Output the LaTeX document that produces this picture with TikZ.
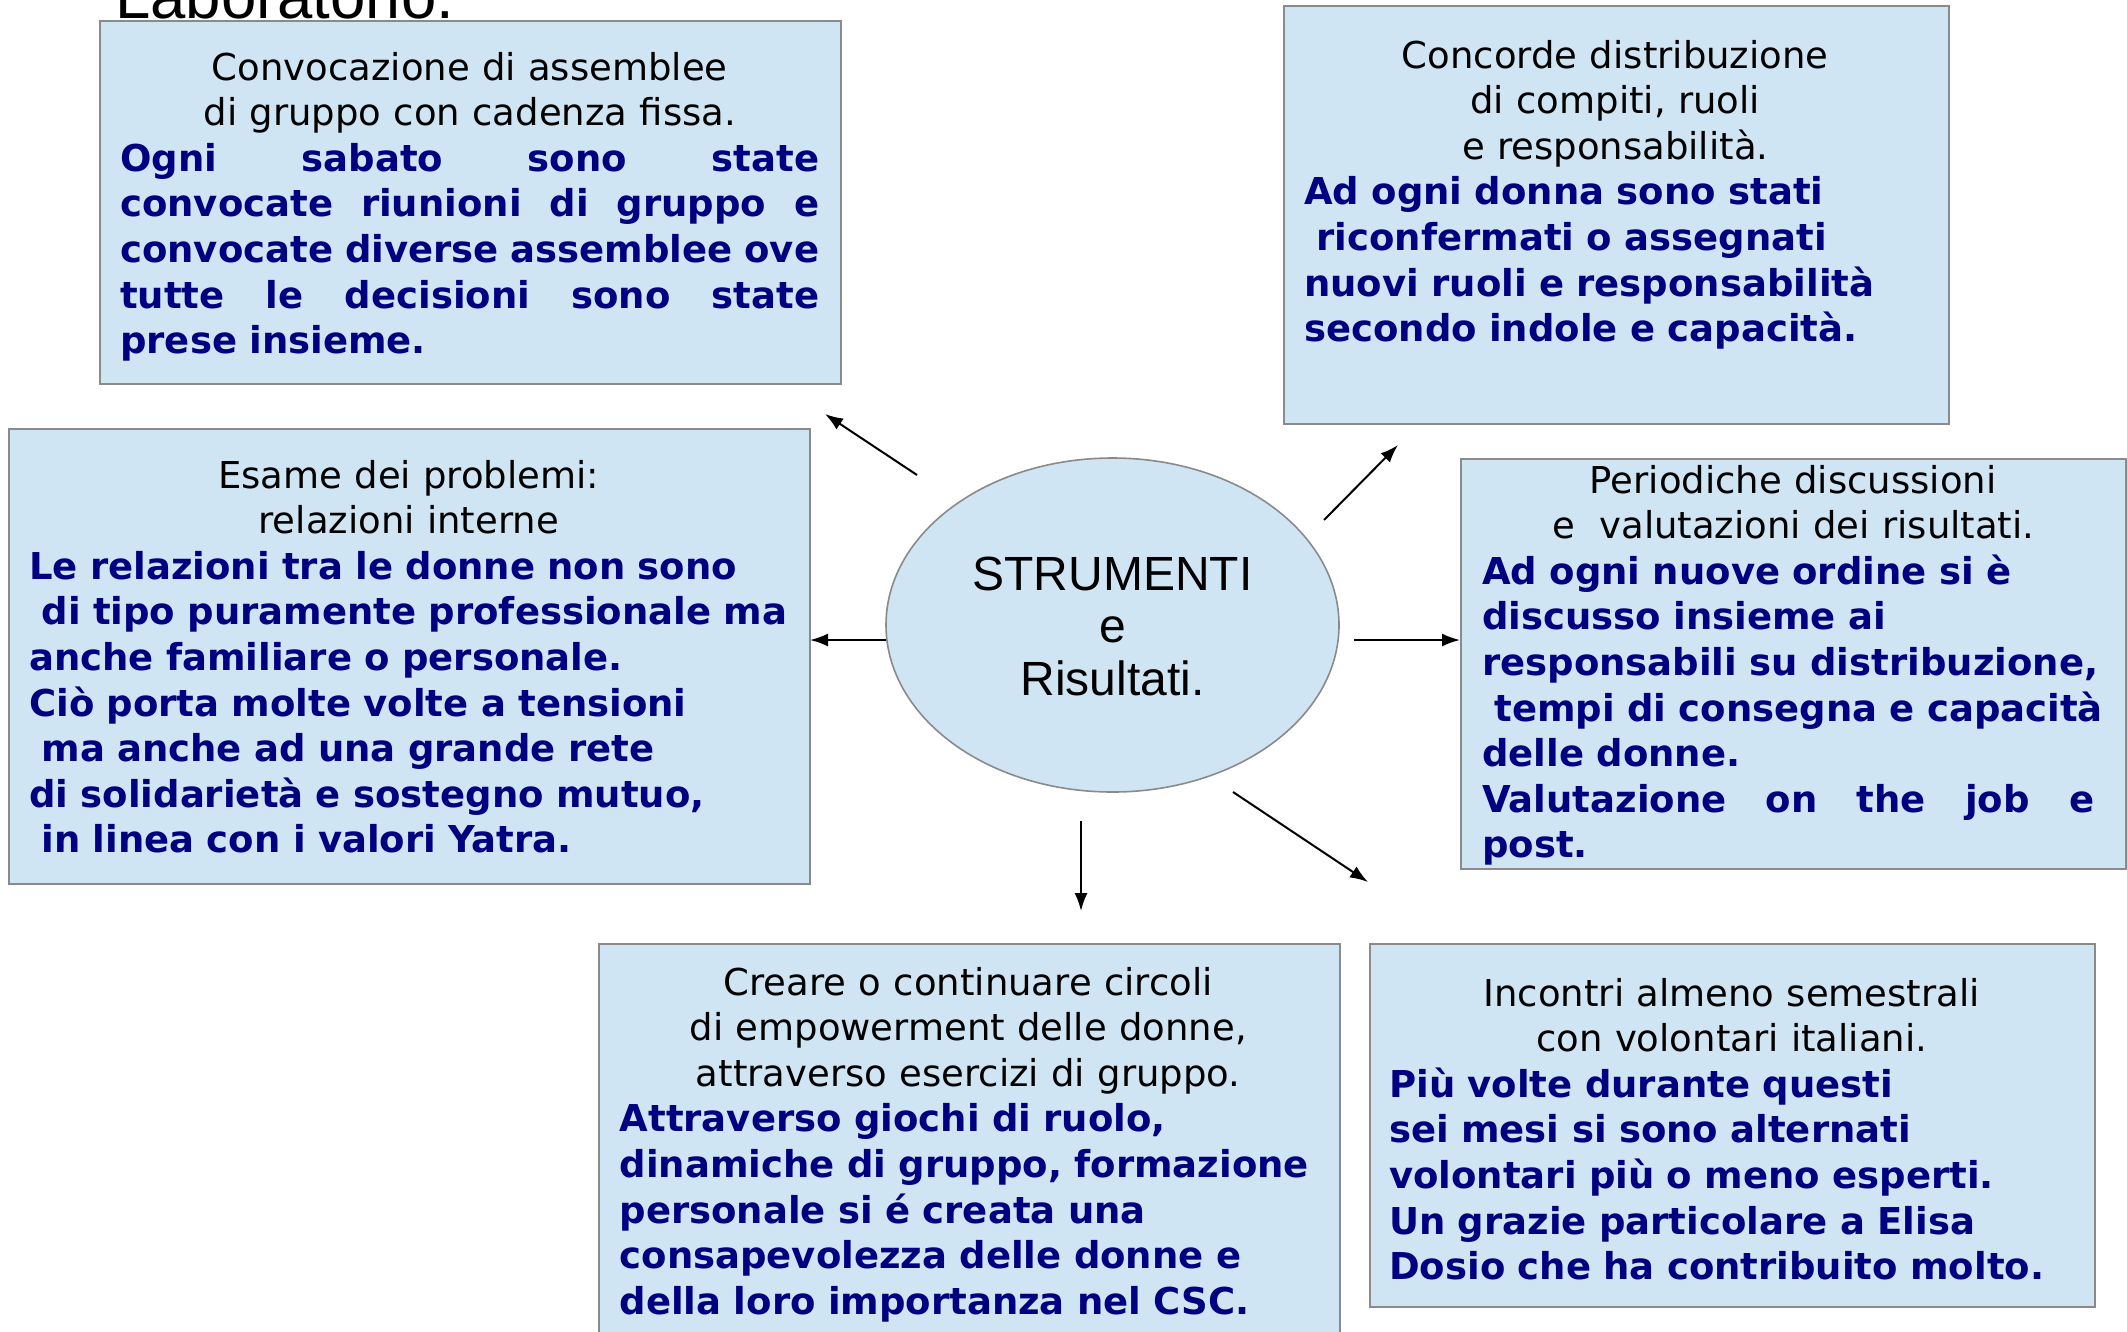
\documentclass[tikz,border=0pt]{standalone}
\usepackage{fontspec}
\setmainfont{DejaVu Sans}
\newfontfamily\arialf{Liberation Sans}
\usetikzlibrary{arrows.meta,shapes.geometric}
\definecolor{boxfill}{HTML}{CFE5F3}
\definecolor{boxline}{HTML}{8A8A8A}
\definecolor{bodyblue}{HTML}{000080}
\newcommand{\jl}[1]{\leavevmode\hbox to\linewidth{#1}}
\newcommand{\cl}[1]{\makebox[\linewidth]{#1}}
\tikzset{
  box/.style={draw=boxline, line width=2pt, fill=boxfill, inner sep=0pt, anchor=north west},
  txt/.style={anchor=base west, inner sep=0pt, align=left, font=\fontsize{37}{45.6}\selectfont},
  conn/.style={line width=2pt, -{Latex[length=18pt,width=13pt]}}
}
\begin{document}
\begin{tikzpicture}[x=1pt,y=-1pt]
\useasboundingbox (0,0) rectangle (2127,1331);
% partially visible title
\node[anchor=base west, inner sep=0pt, font=\arialf\fontsize{63.5}{70}\selectfont] (lab) at (115,18) {Laboratorio.};

% boxes
\node[box, minimum width=741pt, minimum height=363pt] (b1) at (99,20) {};
\node[box, minimum width=665pt, minimum height=418pt] (b2) at (1283,5) {};
\node[box, minimum width=801pt, minimum height=455pt] (b3) at (8,428) {};
\node[box, minimum width=665pt, minimum height=410pt] (b4) at (1460,458) {};
\node[box, minimum width=741pt, minimum height=410pt] (b5) at (598,943) {};
\node[box, minimum width=725pt, minimum height=363pt] (b6) at (1369,943) {};

% center ellipse
\node[ellipse, draw=boxline, line width=1.6pt, fill=boxfill, minimum width=453pt, minimum height=334pt, inner sep=0pt] (ell) at (1112.5,625) {};
\node[anchor=base, inner sep=0pt, align=center, font=\arialf\fontsize{48}{52.5}\selectfont] (ellt) at (1112.5,695) {STRUMENTI\\e\\Risultati.};

% box texts
\node[txt, text width=699pt] (t1) at (120,80) {%
\cl{Convocazione di assemblee}\\
\cl{di gruppo con cadenza fissa.}\\
\color{bodyblue}\bfseries
\jl{Ogni\hfill sabato\hfill sono\hfill state}\\
\jl{convocate\hfill riunioni\hfill di\hfill gruppo\hfill e}\\
\jl{convocate\hfill diverse\hfill assemblee\hfill ove}\\
\jl{tutte\hfill le\hfill decisioni\hfill sono\hfill state}\\
prese insieme.};

\node[txt, text width=622pt] (t2) at (1304,68) {%
\cl{Concorde distribuzione}\\
\cl{di compiti, ruoli}\\
\cl{e responsabilità.}\\
\color{bodyblue}\bfseries
Ad ogni donna sono stati\\
\ riconfermati o assegnati\\
nuovi ruoli e responsabilità\\
secondo indole e capacità.};

\node[txt, text width=759pt] (t3) at (29,488) {%
\cl{Esame dei problemi:}\\
\cl{relazioni interne}\\
\color{bodyblue}\bfseries
Le relazioni tra le donne non sono\\
\ di tipo puramente professionale ma\\
anche familiare o personale.\\
Ciò porta molte volte a tensioni\\
\ ma anche ad una grande rete\\
di solidarietà e sostegno mutuo,\\
\ in linea con i valori Yatra.};

\node[txt, text width=622pt] (t4) at (1482,493) {%
\cl{Periodiche discussioni}\\
\cl{e\ \ valutazioni dei risultati.}\\
\color{bodyblue}\bfseries
Ad ogni nuove ordine si è\\
discusso insieme ai\\
responsabili su distribuzione,\\
\ tempi di consegna e capacità\\
delle donne.\\
\leavevmode\hbox to 612pt{Valutazione\hfill on\hfill the\hfill job\hfill e}\\
post.};

\node[txt, text width=697pt] (t5) at (619.5,995) {%
\cl{Creare o continuare circoli}\\
\cl{di empowerment delle donne,}\\
\cl{attraverso esercizi di gruppo.}\\
\color{bodyblue}\bfseries
Attraverso giochi di ruolo,\\
dinamiche di gruppo, formazione\\
personale si é creata una\\
consapevolezza delle donne e\\
della loro importanza nel CSC.};

\node[txt, text width=685pt] (t6) at (1389,1006) {%
\cl{Incontri almeno semestrali}\\
\cl{con volontari italiani.}\\
\color{bodyblue}\bfseries
Più volte durante questi\\
sei mesi si sono alternati\\
volontari più o meno esperti.\\
Un grazie particolare a Elisa\\
Dosio che ha contribuito molto.};

% connector end points
\coordinate (a1s) at (917,475);  \coordinate (a1e) at (825,414);
\coordinate (a2s) at (1324,520); \coordinate (a2e) at (1398,445);
\coordinate (a3s) at (886,640);  \coordinate (a3e) at (810,640);
\coordinate (a4s) at (1354,640); \coordinate (a4e) at (1460,640);
\coordinate (a5s) at (1081,821); \coordinate (a5e) at (1081,911);
\coordinate (a6s) at (1233,792); \coordinate (a6e) at (1368,882);

\draw[conn] (a1s) -- (a1e);
\draw[conn] (a2s) -- (a2e);
\draw[conn] (a3s) -- (a3e);
\draw[conn] (a4s) -- (a4e);
\draw[conn] (a5s) -- (a5e);
\draw[conn] (a6s) -- (a6e);
\end{tikzpicture}
\end{document}
